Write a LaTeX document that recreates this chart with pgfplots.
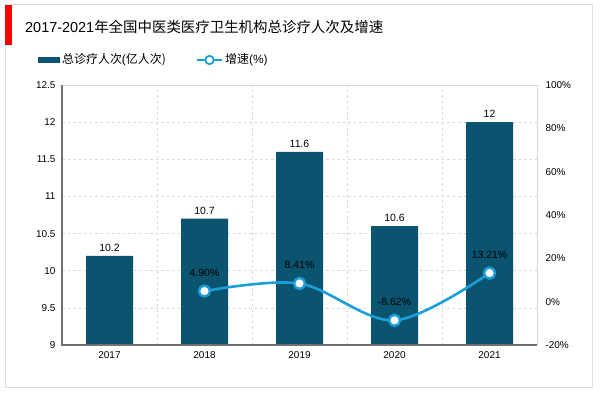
\documentclass[border=0pt]{standalone}
\usepackage{pgfplots}
\pgfplotsset{compat=1.18}
\usepackage{fontspec}
\setmainfont{Liberation Sans}
\newfontfamily\cjk{Noto Sans CJK SC}
\definecolor{barc}{HTML}{0A5470}
\definecolor{linec}{HTML}{1C9ED8}
\definecolor{gridc}{HTML}{D8D8D8}
\definecolor{axc}{HTML}{707070}
\begin{document}
\begin{tikzpicture}[x=1bp,y=1bp]
\useasboundingbox (0,0) rectangle (600,393);
\fill[white] (0,0) rectangle (600,393);
\draw[gray!25, line width=1bp] (5,6) rectangle (592,388);
\fill[red] (5,348) rectangle (12,388);
\node[anchor=west, inner sep=0] at (25,366) {\fontsize{14.5}{17}\selectfont 2017-2021{\cjk 年全国中医类医疗卫生机构总诊疗人次及增速}};
% legend
\fill[barc] (38,330) rectangle (60,336);
\node[anchor=west, inner sep=0] at (62,333) {\fontsize{12}{14}\selectfont{\cjk 总诊疗人次}(\cjk 亿人次)};
\draw[linec, line width=2.2bp] (197,333) -- (222,333);
\draw[linec, line width=1.8bp, fill=white] (209.5,333) circle (4.2bp);
\node[anchor=west, inner sep=0] at (225,333) {\fontsize{12}{14}\selectfont{\cjk 增速}(\%)};
\begin{axis}[
  at={(62bp,48bp)}, anchor=south west,
  scale only axis, width=475bp, height=260bp,
  xmin=-0.5, xmax=4.5, ymin=9, ymax=12.5,
  xtick={0,1,2,3,4}, xticklabels={2017,2018,2019,2020,2021},
  minor xtick={0.5,1.5,2.5,3.5},
  ytick={9,9.5,10,10.5,11,11.5,12,12.5},
  yticklabels={9,9.5,10,10.5,11,11.5,12,12.5},
  ymajorgrids, xminorgrids,
  major grid style={gridc, dash pattern=on 2.5bp off 3bp, line width=0.6bp},
  minor grid style={gridc, dash pattern=on 2.5bp off 3bp, line width=0.6bp},
  axis line style={draw=none},
  tick style={draw=none},
  ticklabel style={font=\fontsize{10}{12}\selectfont},
  yticklabel style={xshift=-3bp},
  xticklabel style={yshift=-3bp},
  /pgf/number format/assume math mode=true,
  clip=false,
]
\draw[gridc, line width=0.8bp] (rel axis cs:0,1) -- (rel axis cs:1,1) -- (rel axis cs:1,0);
\addplot[ybar, bar width=47bp, fill=barc, draw=none, bar shift=0pt,
  nodes near coords, nodes near coords style={font=\fontsize{10.5}{12}\selectfont, black, yshift=1bp},
  point meta=explicit symbolic]
  coordinates {(0,10.2)[10.2] (1,10.7)[10.7] (2,11.6)[11.6] (3,10.6)[10.6] (4,12)[12]};
\draw[axc, line width=1.4bp] (rel axis cs:0,1) -- (rel axis cs:0,0) -- (rel axis cs:1,0);
\end{axis}
\begin{axis}[
  at={(62bp,48bp)}, anchor=south west,
  scale only axis, width=475bp, height=260bp,
  xmin=-0.5, xmax=4.5, ymin=-20, ymax=100,
  axis x line=none, axis y line*=right,
  axis line style={draw=none},
  tick style={draw=none},
  ytick={-20,0,20,40,60,80,100},
  yticklabel={\pgfmathprintnumber{\tick}\%},
  yticklabel style={xshift=5bp},
  ticklabel style={font=\fontsize{10}{12}\selectfont},
  /pgf/number format/assume math mode=true,
  clip=false,
]
\addplot[linec, line width=2.6bp, smooth, tension=0.55,
  mark=*, mark size=5.5bp, mark options={fill=white, draw=linec, line width=2.4bp},
  nodes near coords, nodes near coords style={font=\fontsize{10.5}{12}\selectfont, black, yshift=10bp},
  point meta=explicit symbolic]
  coordinates {(1,4.90)[4.90\%] (2,8.41)[8.41\%] (3,-8.62)[-8.62\%] (4,13.21)[13.21\%]};
\end{axis}
\end{tikzpicture}
\end{document}
